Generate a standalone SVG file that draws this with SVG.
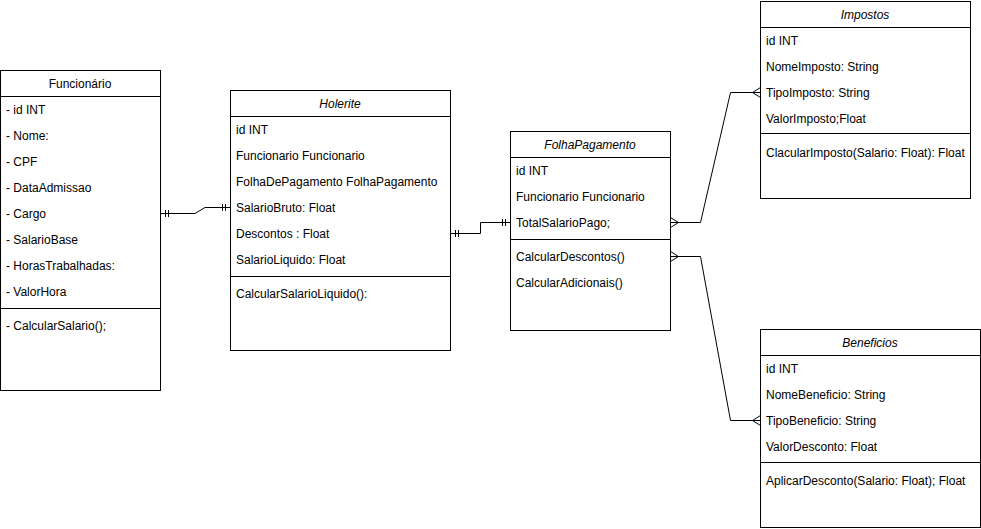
<svg xmlns="http://www.w3.org/2000/svg" width="981" height="529" viewBox="0 0 981 529">
<style>
.box{fill:#fff;stroke:#000;stroke-width:1}
.ln{stroke:#000;stroke-width:1;fill:none}
text{font-family:"Liberation Sans",Arial,sans-serif;font-size:12px;fill:#000}
.t{text-anchor:middle}
.i{font-style:italic}
</style>
<defs>
<marker id="one" markerUnits="userSpaceOnUse" markerWidth="12" markerHeight="12" viewBox="0 0 12 12" refX="12" refY="6" orient="auto-start-reverse">
<path d="M7 2.5V9.5M4 2.5V9.5" stroke="#000" stroke-width="1" fill="none"/>
</marker>
<marker id="many" markerUnits="userSpaceOnUse" markerWidth="12" markerHeight="12" viewBox="0 0 12 12" refX="12" refY="6" orient="auto-start-reverse">
<path d="M12 1L4 6L12 11" stroke="#000" stroke-width="1" fill="none"/>
</marker>
</defs>
<rect width="981" height="529" fill="#fff"/>
<g id="connectors">
<path class="ln" d="M160.5 213.5H195L205 207.5H230.5" marker-start="url(#one)" marker-end="url(#one)"/>
<path class="ln" d="M450.5 233.5H480.5V222.5H510.5" marker-start="url(#one)" marker-end="url(#one)"/>
<path class="ln" d="M670.5 222.5H700.5L730.5 92.5H760.5" marker-start="url(#many)" marker-end="url(#many)"/>
<path class="ln" d="M670.5 256.5H700.5L730.5 420.5H760.5" marker-start="url(#many)" marker-end="url(#many)"/>
</g>
<g id="funcionario">
<rect class="box" x="0.5" y="70.5" width="160" height="320"/>
<path class="ln" d="M0.5 96.5H160.5M0.5 308.5H160.5"/>
<text class="t" x="80" y="88">Funcionário</text>
<text x="6" y="114">- id INT</text>
<text x="6" y="140">- Nome:</text>
<text x="6" y="166">- CPF</text>
<text x="6" y="192">- DataAdmissao</text>
<text x="6" y="218">- Cargo</text>
<text x="6" y="244">- SalarioBase</text>
<text x="6" y="270">- HorasTrabalhadas:</text>
<text x="6" y="296">- ValorHora</text>
<text x="6" y="330">- CalcularSalario();</text>
</g>
<g id="holerite">
<rect class="box" x="230.5" y="90.5" width="220" height="260"/>
<path class="ln" d="M230.5 116.5H450.5M230.5 276.5H450.5"/>
<text class="t i" x="340" y="108">Holerite</text>
<text x="236" y="134">id INT</text>
<text x="236" y="160">Funcionario Funcionario</text>
<text x="236" y="186">FolhaDePagamento FolhaPagamento</text>
<text x="236" y="212">SalarioBruto: Float</text>
<text x="236" y="238">Descontos : Float</text>
<text x="236" y="264">SalarioLiquido: Float</text>
<text x="236" y="298">CalcularSalarioLiquido():</text>
</g>
<g id="folhapagamento">
<rect class="box" x="510.5" y="131.5" width="160" height="199"/>
<path class="ln" d="M510.5 157.5H670.5M510.5 239.5H670.5"/>
<text class="t i" x="590" y="149">FolhaPagamento</text>
<text x="516" y="175">id INT</text>
<text x="516" y="201">Funcionario Funcionario</text>
<text x="516" y="227">TotalSalarioPago;</text>
<text x="516" y="261">CalcularDescontos()</text>
<text x="516" y="287">CalcularAdicionais()</text>
</g>
<g id="impostos">
<rect class="box" x="760.5" y="1.5" width="210" height="197"/>
<path class="ln" d="M760.5 27.5H970.5M760.5 133.5H970.5"/>
<text class="t i" x="865" y="19">Impostos</text>
<text x="766" y="45">id INT</text>
<text x="766" y="71">NomeImposto: String</text>
<text x="766" y="97">TipoImposto: String</text>
<text x="766" y="123">ValorImposto;Float</text>
<text x="766" y="157">ClacularImposto(Salario: Float): Float</text>
</g>
<g id="beneficios">
<rect class="box" x="760.5" y="329.5" width="220" height="198"/>
<path class="ln" d="M760.5 355.5H980.5M760.5 462.5H980.5"/>
<text class="t i" x="870" y="347">Beneficios</text>
<text x="766" y="373">id INT</text>
<text x="766" y="399">NomeBeneficio: String</text>
<text x="766" y="425">TipoBeneficio: String</text>
<text x="766" y="451">ValorDesconto: Float</text>
<text x="766" y="485">AplicarDesconto(Salario: Float); Float</text>
</g>
</svg>
